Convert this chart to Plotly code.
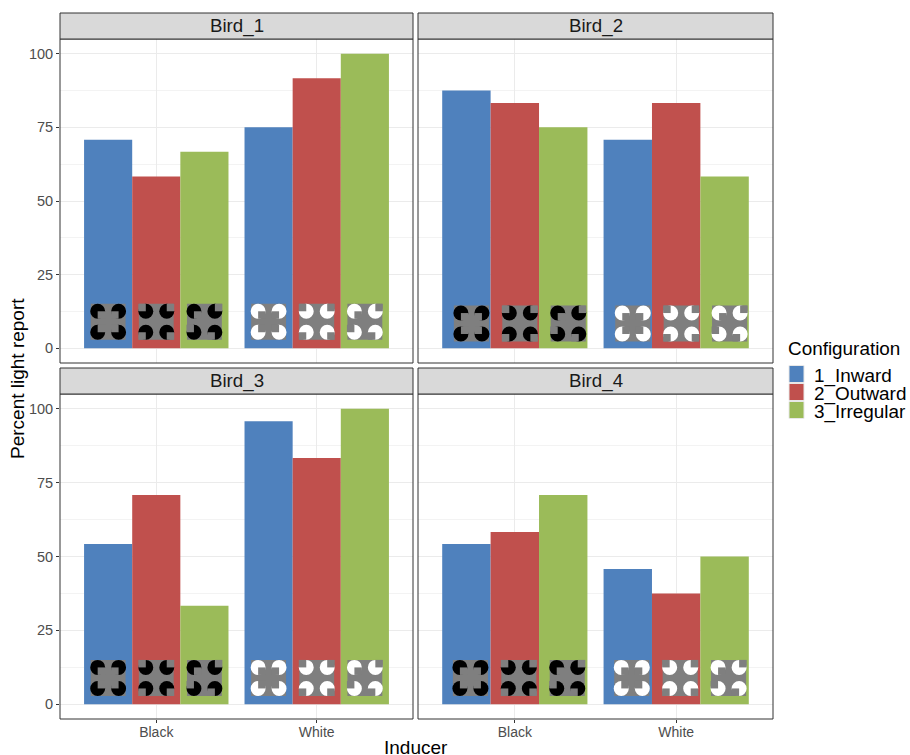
import plotly.graph_objects as go

birds = ["Bird_1", "Bird_2", "Bird_3", "Bird_4"]
inducers = ["Black", "White"]
configs = ["1_Inward", "2_Outward", "3_Irregular"]
colors = ["#4F81BD", "#C0504D", "#9BBB59"]
inward = [[70.8, 75.0], [87.5, 70.8], [54.2, 95.8], [54.2, 45.8]]
outward = [[58.3, 91.7], [83.3, 83.3], [70.8, 83.3], [58.3, 37.5]]
irregular = [[66.7, 100.0], [75.0, 58.3], [33.3, 100.0], [70.8, 50.0]]
values = [inward, outward, irregular]
yticks = [0, 25, 50, 75, 100]
yminor = [12.5, 37.5, 62.5, 87.5]

W, H = 910, 755
PX = 161.0   # pixels per x-axis unit
PY = 2.95    # pixels per y-axis unit
FONT = "Liberation Sans"
GRAY = "#7F7F7F"

fig = go.Figure()
panels = [(60, 413, 39, 363), (418, 773, 39, 363), (60, 413, 394, 719), (418, 773, 394, 719)]
glyph_shift = [0, 5, 0, 4]
glyph_y = [9.0, 8.4, 8.9, 8.9]
axis_cfg = dict(showline=False, mirror=False, zeroline=False, gridcolor="#EBEBEB", gridwidth=1)
# notch direction of each pac-man (TL, TR, BL, BR), as (dx, dy) signs in data space
notches = [
    [(1, -1), (-1, -1), (1, 1), (-1, 1)],
    [(-1, 1), (1, 1), (-1, -1), (1, -1)],
    [(1, -1), (1, 1), (-1, 1), (-1, -1)],
]
for i, (x0, x1, y0, y1) in enumerate(panels):
    n = "" if i == 0 else str(i + 1)
    xa = dict(domain=[x0 / W, x1 / W], range=[0.4, 2.6], tickvals=[1, 2], ticktext=inducers,
              anchor="y" + n, ticks="outside" if i >= 2 else "", ticklen=3, tickcolor="#333333",
              ticklabelstandoff=-3,
              showticklabels=i >= 2, tickfont=dict(family=FONT, size=14, color="#4D4D4D"), **axis_cfg)
    ya = dict(domain=[1 - y1 / H, 1 - y0 / H], range=[-5, 105], tickvals=yticks,
              anchor="x" + n, ticks="outside" if i % 2 == 0 else "", ticklen=3, tickcolor="#333333",
              showticklabels=i % 2 == 0, tickfont=dict(family=FONT, size=14.5, color="#4D4D4D"),
              minor=dict(tickvals=yminor, showgrid=True, gridcolor="#F3F3F3", gridwidth=1, ticks=""),
              **axis_cfg)
    fig.update_layout(**{"xaxis" + n: xa, "yaxis" + n: ya})
    for j, c in enumerate(configs):
        fig.add_trace(go.Bar(x=[1 + (j - 1) * 0.3, 2 + (j - 1) * 0.3], y=values[j][i], width=0.3,
                             marker=dict(color=colors[j], line=dict(width=0)), name=c,
                             showlegend=False, xaxis="x" + n, yaxis="y" + n))
    fig.add_shape(type="rect", xref="paper", yref="paper", x0=x0 / W, x1=x1 / W, y0=1 - y1 / H, y1=1 - y0 / H,
                  line=dict(color="#333333", width=1), fillcolor="rgba(0,0,0,0)", layer="above")
    fig.add_shape(type="rect", xref="paper", yref="paper", x0=x0 / W, x1=x1 / W, y0=1 - y0 / H, y1=1 - (y0 - 26) / H,
                  line=dict(color="#333333", width=1), fillcolor="#D9D9D9")
    fig.add_annotation(xref="paper", yref="paper", x=(x0 + x1) / 2 / W, y=1 - (y0 - 13) / H, text=birds[i],
                       xanchor="center", yanchor="middle", showarrow=False,
                       font=dict(family=FONT, size=18.7, color="#1A1A1A"))
    xr, yr = "x" + n, "y" + n
    for g, ink in enumerate(["black", "white"]):
        for j in range(3):
            cx = 1 + g + (j - 1) * 0.3 + glyph_shift[i] / PX
            cy = glyph_y[i]
            fig.add_shape(type="rect", xref=xr, yref=yr, x0=cx - 17.5 / PX, x1=cx + 17.5 / PX,
                          y0=cy - 18 / PY, y1=cy + 18 / PY, fillcolor=GRAY, line_width=0, layer="above")
            for k, (sx, sy) in enumerate([(-1, 1), (1, 1), (-1, -1), (1, -1)]):
                px = cx + sx * 10.5 / PX
                py = cy + sy * 10.5 / PY
                fig.add_shape(type="circle", xref=xr, yref=yr, x0=px - 7.5 / PX, x1=px + 7.5 / PX,
                              y0=py - 7.5 / PY, y1=py + 7.5 / PY, fillcolor=ink, line_width=0, layer="above")
                dx, dy = notches[j][k]
                fig.add_shape(type="rect", xref=xr, yref=yr, x0=px, x1=px + dx * 7.5 / PX,
                              y0=py, y1=py + dy * 7.5 / PY, fillcolor=GRAY, line_width=0, layer="above")

# manual legend, because the swatches are large and touching
fig.add_annotation(xref="paper", yref="paper", x=786 / W, y=1 - 348 / H, text="Configuration", showarrow=False,
                   xanchor="left", yanchor="middle", font=dict(family=FONT, size=18.9, color="black"))
for j, c in enumerate(configs):
    top = 365 + j * 18
    fig.add_shape(type="rect", xref="paper", yref="paper", x0=789 / W, x1=804 / W, y0=1 - (top + 17.5) / H,
                  y1=1 - (top + 0.5) / H, fillcolor=colors[j], line=dict(color="#E8E8E8", width=1))
    fig.add_annotation(xref="paper", yref="paper", x=812 / W, y=1 - (top + 10.5) / H, text=c, showarrow=False,
                       xanchor="left", yanchor="middle", font=dict(family=FONT, size=18.9, color="black"))

fig.add_annotation(xref="paper", yref="paper", x=416 / W, y=1 - 747 / H, text="Inducer", showarrow=False,
                   xanchor="center", yanchor="middle", font=dict(family=FONT, size=19, color="black"))
fig.add_annotation(xref="paper", yref="paper", x=17 / W, y=1 - 379 / H, text="Percent light report", textangle=-90,
                   xanchor="center", yanchor="middle", showarrow=False, font=dict(family=FONT, size=19, color="black"))
fig.update_layout(width=W, height=H, autosize=False, margin=dict(l=0, r=0, t=0, b=0),
                  paper_bgcolor="white", plot_bgcolor="white", barmode="overlay", showlegend=False)
fig.write_html("out.html", config=dict(displayModeBar=False),
               post_script="document.body.style.margin='0';document.body.style.overflow='hidden';")
